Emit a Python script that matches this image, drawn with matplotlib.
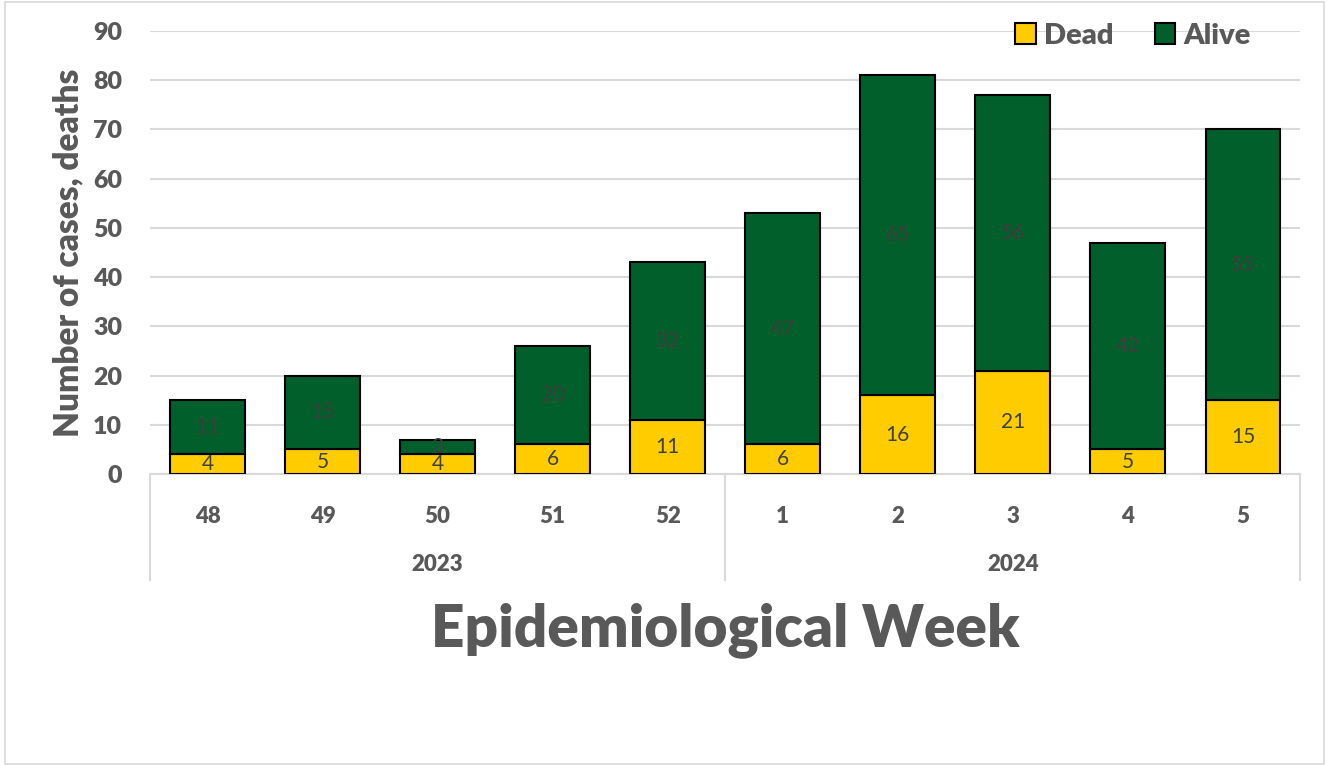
import matplotlib
matplotlib.use("Agg")
import matplotlib.pyplot as plt
from matplotlib.patches import Rectangle

weeks = ["48", "49", "50", "51", "52", "1", "2", "3", "4", "5"]
years = ["2023", "2024"]
year_sizes = [5, 5]
dead = [4, 5, 4, 6, 11, 6, 16, 21, 5, 15]
alive = [11, 15, 3, 20, 32, 47, 65, 56, 42, 55]

YELLOW = "#FFCC00"
GREEN = "#005F2A"
GREY = "#595959"
LABEL = "#404040"
GRID = "#D9D9D9"

plt.rcParams['font.family'] = ['Lato', 'DejaVu Sans']

fig = plt.figure(figsize=(13.27, 7.66), dpi=100)
fig.patches.append(Rectangle((0.004, 0.002), 0.994, 0.995, transform=fig.transFigure,
                             fill=False, edgecolor=GRID, linewidth=1.2))
ax = fig.add_axes([0.113, 0.3812, 0.867, 0.5783])

x = list(range(len(weeks)))
b1 = ax.bar(x, dead, width=0.65, color=YELLOW, edgecolor="black", linewidth=1.5,
            label="Dead", zorder=3)
b2 = ax.bar(x, alive, width=0.65, bottom=dead, color=GREEN, edgecolor="black",
            linewidth=1.5, label="Alive", zorder=3)
ax.bar_label(b1, labels=[str(v) for v in dead], label_type="center",
             color=LABEL, fontsize=15)
ax.bar_label(b2, labels=[str(v) for v in alive], label_type="center",
             color="#3F3F3F", fontsize=15)

ax.set_xlim(-0.5, len(weeks) - 0.5)
ax.set_ylim(0, 90)
ax.set_yticks(range(0, 91, 10))
ax.yaxis.grid(True, color=GRID, linewidth=1.5, zorder=0)
ax.set_axisbelow(True)
for s in ["top", "right", "left"]:
    ax.spines[s].set_visible(False)
ax.spines["bottom"].set_color(GRID)
ax.spines["bottom"].set_linewidth(1.5)
ax.tick_params(axis="y", length=0, labelsize=18, labelcolor=GREY, pad=20)
for t in ax.get_yticklabels():
    t.set_fontweight("heavy")
ax.set_xticks(x)
ax.set_xticklabels(weeks, fontsize=16, fontweight="heavy", color=GREY)
ax.tick_params(axis="x", length=0, pad=23)

ax.set_ylabel("Number of cases, deaths", fontsize=24, fontweight="heavy",
              color=GREY, labelpad=6)

# hierarchical category axis
trans = ax.get_xaxis_transform()
start = -0.5
bounds = [start]
for n in year_sizes:
    start += n
    bounds.append(start)
for bx in bounds:
    ax.plot([bx, bx], [0, -0.239], transform=trans, color=GRID, linewidth=1.5,
            clip_on=False)
for i, yr in enumerate(years):
    cx = (bounds[i] + bounds[i + 1]) / 2
    ax.text(cx, -0.205, yr, transform=trans, ha="center", va="center",
            fontsize=16, fontweight="heavy", color=GREY)

fig.text(0.5465, 0.178, "Epidemiological Week", ha="center", va="center",
         fontsize=42, fontweight="heavy", color=GREY)

leg = ax.legend(loc="upper right", bbox_to_anchor=(0.98, 1.078), ncol=2, frameon=False,
                fontsize=21, handlelength=0.7, handleheight=0.7,
                columnspacing=1.4, handletextpad=0.3)
for t in leg.get_texts():
    t.set_color(GREY)
    t.set_fontweight("heavy")

fig.savefig("out.png", dpi=100)
